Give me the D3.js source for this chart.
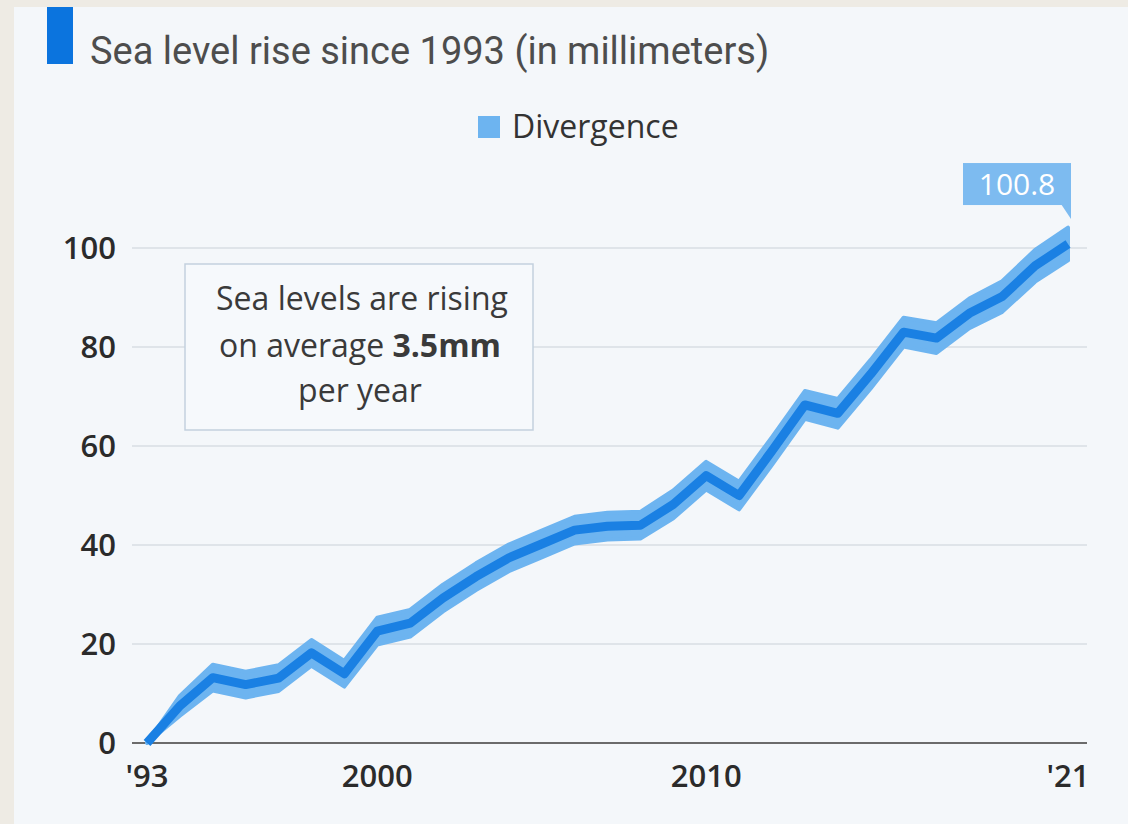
<!DOCTYPE html>
<html>
<head>
  <script src="https://d3js.org/d3.v7.min.js"></script>
  <style>
    body { margin: 0; background: #eeebe4; }
    svg { display: block; font-family: "Open Sans", sans-serif; }
    .grid line { stroke: #d9dee3; stroke-width: 1.5; }
    .tick-label { font-size: 31px; font-weight: 600; fill: #2b2b2b; }
    .title { font-size: 38px; font-weight: 400; fill: #4d4d4d; font-family: Roboto, sans-serif; }
    .legend-text { font-size: 32px; font-weight: 500; fill: #333; }
    .note { font-size: 32px; fill: #3a3a3a; text-anchor: middle; }
  </style>
</head>
<body>
  <div id="chart"></div>

  <script>
    // sea level rise since 1993, mm
    var years = [1993, 1994, 1995, 1996, 1997, 1998, 1999, 2000, 2001, 2002,
                 2003, 2004, 2005, 2006, 2007, 2008, 2009, 2010, 2011, 2012,
                 2013, 2014, 2015, 2016, 2017, 2018, 2019, 2020, 2021];
    var rise = [0, 7.5, 13.2, 11.8, 13.1, 18.2, 14, 22.6, 24.2, 29.3,
                33.6, 37.4, 40.2, 43, 43.8, 44, 48.2, 54, 50, 59,
                68.3, 66.6, 74.5, 83, 81.8, 86.8, 90.2, 96.4, 100.8];
    // half width of the divergence band, mm
    var divergence = [0, 2, 2.6, 2.6, 2.6, 2.6, 2.6, 2.7, 2.7, 2.7,
                      2.7, 2.7, 2.7, 2.7, 2.7, 2.7, 2.8, 2.8, 2.8, 2.8,
                      2.8, 2.9, 2.9, 2.9, 3, 3, 3.1, 3.2, 3.3];
    var yTicks = [0, 20, 40, 60, 80, 100];
    var xTicks = [1993, 2000, 2010, 2021];
    var xTickLabels = ["'93", "2000", "2010", "'21"];

    var W = 1128, H = 824;

    var data = years.map(function(y, i) {
      return { year: y, value: rise[i], div: divergence[i] };
    });

    var svg = d3.select("#chart").append("svg")
      .attr("width", W)
      .attr("height", H);

    // panel
    svg.append("rect")
      .attr("x", 14).attr("y", 7)
      .attr("width", W - 14).attr("height", H - 7)
      .attr("fill", "#f4f7fa");

    var x = d3.scaleLinear()
      .domain([1993, 2021])
      .range([147, 1068]);

    var y = d3.scaleLinear()
      .domain([0, 100])
      .range([743, 248]);

    // gridlines
    svg.append("g")
      .attr("class", "grid")
      .selectAll("line")
      .data(yTicks.slice(1))
      .enter().append("line")
      .attr("x1", 132).attr("x2", 1087)
      .attr("y1", function(d) { return y(d); })
      .attr("y2", function(d) { return y(d); });

    // y labels
    svg.append("g")
      .selectAll("text")
      .data(yTicks)
      .enter().append("text")
      .attr("class", "tick-label")
      .attr("x", 116)
      .attr("y", function(d) { return y(d); })
      .attr("dy", "0.36em")
      .attr("text-anchor", "end")
      .text(function(d) { return d; });

    // x labels
    svg.append("g")
      .selectAll("text")
      .data(xTicks)
      .enter().append("text")
      .attr("class", "tick-label")
      .attr("x", function(d) { return x(d); })
      .attr("y", 787)
      .attr("text-anchor", "middle")
      .text(function(d, i) { return xTickLabels[i]; });

    // baseline
    svg.append("line")
      .attr("x1", 132).attr("x2", 1087)
      .attr("y1", y(0)).attr("y2", y(0))
      .attr("stroke", "#6b6b6b")
      .attr("stroke-width", 2);

    // divergence band
    var band = d3.area()
      .x(function(d) { return x(d.year); })
      .y0(function(d) { return y(d.value - d.div); })
      .y1(function(d) { return y(d.value + d.div); });

    svg.append("path")
      .datum(data)
      .attr("d", band)
      .attr("fill", "#6db4f0")
      .attr("stroke", "#6db4f0")
      .attr("stroke-width", 4)
      .attr("stroke-linejoin", "round");

    var line = d3.line()
      .x(function(d) { return x(d.year); })
      .y(function(d) { return y(d.value); });

    svg.append("path")
      .datum(data)
      .attr("d", line)
      .attr("fill", "none")
      .attr("stroke", "#1a80e3")
      .attr("stroke-width", 9)
      .attr("stroke-linejoin", "round");

    // end label
    var last = data[data.length - 1];
    var lx = x(last.year), ly = y(last.value);
    svg.append("rect")
      .attr("x", lx - 105).attr("y", ly - 81)
      .attr("width", 108).attr("height", 42)
      .attr("fill", "#7dbbf0");
    svg.append("path")
      .attr("d", "M" + (lx - 7) + "," + (ly - 40) + "L" + (lx + 3) + "," + (ly - 40) + "L" + (lx + 3) + "," + (ly - 25) + "Z")
      .attr("fill", "#7dbbf0");
    svg.append("text")
      .attr("x", lx - 51).attr("y", ly - 49)
      .attr("text-anchor", "middle")
      .attr("fill", "#fff")
      .attr("font-size", "30px")
      .text(last.value.toFixed(1));

    // note box
    svg.append("rect")
      .attr("x", 185).attr("y", 264)
      .attr("width", 348).attr("height", 166)
      .attr("fill", "#f6f9fc")
      .attr("stroke", "#c3d1de")
      .attr("stroke-width", 1.5);
    svg.append("text").attr("class", "note").attr("x", 362).attr("y", 310).text("Sea levels are rising");
    var l2 = svg.append("text").attr("class", "note").attr("x", 360).attr("y", 357);
    l2.append("tspan").text("on average ");
    l2.append("tspan").attr("font-weight", 700).text("3.5mm");
    svg.append("text").attr("class", "note").attr("x", 360).attr("y", 402).text("per year");

    // title
    svg.append("rect")
      .attr("x", 47).attr("y", 7)
      .attr("width", 26).attr("height", 57)
      .attr("fill", "#0b74de");
    svg.append("text")
      .attr("class", "title")
      .attr("x", 90).attr("y", 64)
      .text("Sea level rise since 1993 (in millimeters)");

    // legend
    svg.append("rect")
      .attr("x", 478).attr("y", 116)
      .attr("width", 22).attr("height", 22)
      .attr("fill", "#6db4f0");
    svg.append("text")
      .attr("class", "legend-text")
      .attr("x", 512).attr("y", 138)
      .text("Divergence");
  </script>
</body>
</html>
